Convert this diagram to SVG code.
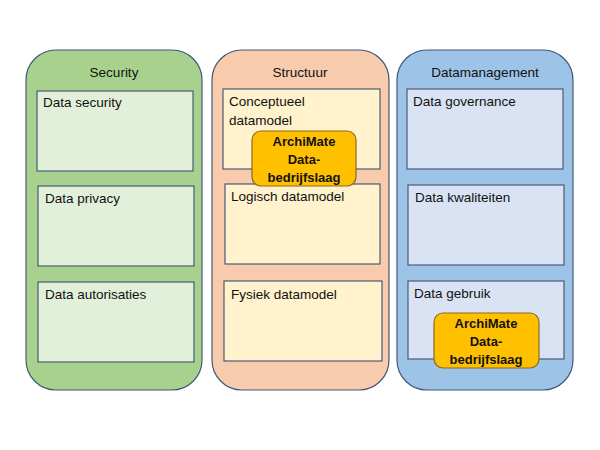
<svg xmlns="http://www.w3.org/2000/svg" width="600" height="450" viewBox="0 0 600 450">
<style>
text{font-family:"Liberation Sans",Arial,sans-serif;font-size:13.5px;fill:#111}
.t{text-anchor:middle;font-size:13.5px}
.col{stroke:#41597a;stroke-width:1.2}
.box{stroke:#4a5a7a;stroke-width:1.2}
.am{fill:#FFC000;stroke:#8a6a1a;stroke-width:1.2}
.amt{font-weight:bold;text-anchor:middle;font-size:13px}
</style>
<rect width="600" height="450" fill="#fff"/>
<g id="security">
<rect class="col" x="26" y="50" width="176" height="340" rx="30" fill="#A9D18E"/>
<text class="t" x="114" y="77">Security</text>
</g>
<g id="data-security"><rect class="box" x="37" y="91" width="156" height="80" fill="#E2F0D9"/><text x="43" y="107">Data security</text></g>
<g id="data-privacy"><rect class="box" x="38" y="186" width="156" height="80" fill="#E2F0D9"/><text x="45" y="203">Data privacy</text></g>
<g id="data-autorisaties"><rect class="box" x="38" y="282" width="156" height="80" fill="#E2F0D9"/><text x="45" y="299">Data autorisaties</text></g>
<g id="structuur">
<rect class="col" x="212" y="50" width="177" height="340" rx="30" fill="#F8CBAD"/>
<text class="t" x="300" y="77">Structuur</text>
</g>
<g id="conceptueel"><rect class="box" x="223" y="89" width="157" height="80" fill="#FFF2CC"/><text x="229" y="106">Conceptueel</text><text x="229" y="125">datamodel</text></g>
<g id="logisch"><rect class="box" x="225" y="184" width="155" height="80" fill="#FFF2CC"/><text x="231" y="201">Logisch datamodel</text></g>
<g id="fysiek"><rect class="box" x="224" y="281" width="158" height="80" fill="#FFF2CC"/><text x="231" y="299">Fysiek datamodel</text></g>
<g id="archimate-1"><rect class="am" x="252" y="131" width="104" height="55" rx="9"/><text class="amt" x="304" y="146">ArchiMate</text><text class="amt" x="304" y="164">Data-</text><text class="amt" x="304" y="182">bedrijfslaag</text></g>
<g id="datamanagement">
<rect class="col" x="397" y="50" width="176" height="340" rx="30" fill="#9DC3E6"/>
<text class="t" x="485" y="77">Datamanagement</text>
</g>
<g id="data-governance"><rect class="box" x="407" y="89" width="156" height="80" fill="#DAE3F3"/><text x="413" y="106">Data governance</text></g>
<g id="data-kwaliteiten"><rect class="box" x="408" y="185" width="156" height="80" fill="#DAE3F3"/><text x="415" y="202">Data kwaliteiten</text></g>
<g id="data-gebruik"><rect class="box" x="408" y="281" width="156" height="78" fill="#DAE3F3"/><text x="414" y="298">Data gebruik</text></g>
<g id="archimate-2"><rect class="am" x="434" y="313" width="105" height="55" rx="9"/><text class="amt" x="486" y="328">ArchiMate</text><text class="amt" x="486" y="346">Data-</text><text class="amt" x="486" y="364">bedrijfslaag</text></g>
<g id="connectors"/>
</svg>
